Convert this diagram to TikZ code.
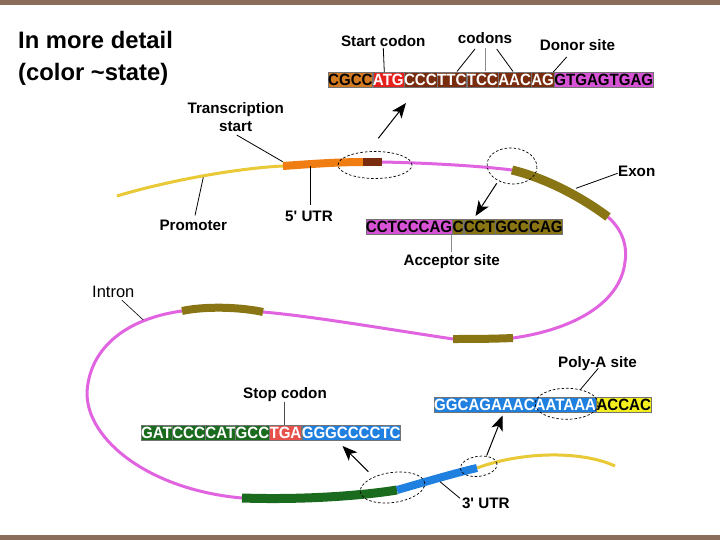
\documentclass[tikz,border=0pt]{standalone}
\usepackage{fontspec}
\setmainfont{Liberation Sans}
\newfontfamily\lab{Liberation Sans}
\newfontfamily\seqf{Liberation Sans}[FakeStretch=0.925]
\usetikzlibrary{shapes.geometric,arrows.meta}
\definecolor{cBorder}{HTML}{8B6D5C}
\definecolor{cOrangeS}{HTML}{D27A22}
\definecolor{cOrangeL}{HTML}{F07D12}
\definecolor{cRed}{HTML}{E6201C}
\definecolor{cBrown}{HTML}{7A2D0E}
\definecolor{cMag}{HTML}{D653D6}
\definecolor{cMagL}{HTML}{E063E0}
\definecolor{cOlive}{HTML}{8A7514}
\definecolor{cGreen}{HTML}{1B6B1E}
\definecolor{cBlue}{HTML}{1F80E0}
\definecolor{cSalmon}{HTML}{E8504C}
\definecolor{cYelL}{HTML}{E9C935}
\definecolor{cYelS}{HTML}{F4EE1E}
\tikzset{
  seq/.style={anchor=west, inner sep=0pt, minimum height=15pt, text height=11.6pt, text depth=0pt,
    font=\seqf\bfseries\fontsize{16.3}{17}\selectfont, draw=black!55, line width=0.4pt},
  lbl/.style={font=\lab\bfseries\fontsize{15.2}{18}\selectfont, inner sep=0pt, align=center},
  lline/.style={line width=0.8pt, black},
  gline/.style={line width=0.8pt, black!45},
  arr/.style={line width=1pt, -{Stealth[length=15pt,width=12pt,inset=4pt]}},
  dell/.style={ellipse, draw, dashed, dash pattern=on 2.5pt off 2pt, line width=0.7pt, inner sep=0pt},
  thinline/.style={line width=3pt, line cap=butt},
  thickline/.style={line width=9pt, line cap=butt},
}
\begin{document}
\begin{tikzpicture}[x=1pt,y=-1pt]
\useasboundingbox (0,0) rectangle (720,540);
\fill[white] (0,0) rectangle (720,540);
\fill[cBorder] (0,0) rectangle (720,5);
\fill[cBorder] (0,535) rectangle (720,540);

% title
\node[anchor=base west, inner sep=0pt, align=left, font=\lab\bfseries\fontsize{23.8}{32.4}\selectfont] (title) at (18,80.7) {In more detail\\(color \textasciitilde state)};

% ---- curve points
\coordinate (p0) at (117,196);
\coordinate (p1) at (283,166);
\coordinate (p2) at (363,162);
\coordinate (p3) at (382,162);
\coordinate (p4) at (512,170);
\coordinate (p5) at (608,217);
\coordinate (p5b) at (625,262);
\coordinate (p6) at (513,338);
\coordinate (p7) at (453,339);
\coordinate (p8) at (263,312);
\coordinate (p9) at (182,311);
\coordinate (p9b) at (87,392);
\coordinate (p10) at (242,498);
\coordinate (p11) at (397,490);
\coordinate (p12) at (477,468);
\coordinate (p13) at (615,466);

% magenta intron lines
\draw[thinline, cMagL] (p3) .. controls (430,163) and (480,166) .. (p4);
\draw[thinline, cMagL] (p5) .. controls (625,232) and (627,250) .. (p5b) .. controls (620,305) and (570,330) .. (p6);
\draw[thinline, cMagL] (p7) .. controls (380,328) and (310,316) .. (p8);
\draw[thinline, cMagL] (p9) .. controls (130,318) and (90,345) .. (p9b) .. controls (86,440) and (150,490) .. (p10);
% promoter & downstream yellow
\draw[thinline, cYelL] (p0) .. controls (170,180) and (240,168) .. (p1);
\draw[thinline, cYelL] (p12) .. controls (520,452) and (580,450) .. (p13);
% thick segments
\draw[thickline, cOrangeL, line width=8pt] (p1) .. controls (310,164) and (340,162) .. (p2);
\draw[thickline, cBrown, line width=8pt] (p2) -- (p3);
\draw[thickline, cOlive] (p4) .. controls (545,178) and (580,196) .. (p5);
\draw[thickline, cOlive, line width=8pt] (p6) .. controls (490,339) and (470,339) .. (p7);
\draw[thickline, cOlive, line width=8pt] (p8) .. controls (240,307) and (205,306) .. (p9);
\draw[thickline, cGreen] (p10) .. controls (300,500) and (360,496) .. (p11);
\draw[thickline, cBlue, line width=8pt] (p11) .. controls (425,482) and (455,473) .. (p12);

% dashed ellipses
\node[dell, minimum width=74pt, minimum height=27pt] (e1) at (375,165) {};
\node[dell, minimum width=50pt, minimum height=36pt, rotate=-5] (e2) at (512,166) {};
\node[dell, minimum width=65pt, minimum height=30pt, rotate=8] (e3) at (392.5,487.5) {};
\node[dell, minimum width=37pt, minimum height=20pt, rotate=8] (e4) at (478.7,466.3) {};

% ---- top sequence
\node[seq, fill=cOrangeS, text=black] (t1) at (328,79.5) {CGCC};
\node[seq, fill=cRed, text=white] (t2) at (t1.east) {ATG};
\node[seq, fill=cBrown, text=white] (t3) at (t2.east) {CCC};
\node[seq, fill=cBrown, text=white] (t4) at (t3.east) {TTC};
\node[seq, fill=cBrown, text=white] (t5) at (t4.east) {TCC};
\node[seq, fill=cBrown, text=white] (t6) at (t5.east) {AAC};
\node[seq, fill=cBrown, text=white] (t7) at (t6.east) {AG};
\node[seq, fill=cMag, text=black] (t8) at (t7.east) {GTGAGTGAG};

% ---- acceptor sequence
\node[seq, fill=cMag, text=black] (a1) at (365.7,227) {CCTCCCAG};
\node[seq, fill=cOlive, text=black] (a2) at (a1.east) {C};
\node[seq, fill=cOlive, text=black] (a3) at (a2.east) {CCT};
\node[seq, fill=cOlive, text=black] (a4) at (a3.east) {GCC};
\node[seq, fill=cOlive, text=black] (a5) at (a4.east) {CAG};

% ---- stop sequence
\node[seq, fill=cGreen, text=white] (b1) at (141,432.6) {GAT};
\node[seq, fill=cGreen, text=white] (b2) at (b1.east) {CCC};
\node[seq, fill=cGreen, text=white] (b3) at (b2.east) {CAT};
\node[seq, fill=cGreen, text=white] (b4) at (b3.east) {GCC};
\node[seq, fill=cSalmon, text=white] (b5) at (b4.east) {TGA};
\node[seq, fill=cBlue, text=white] (b6) at (b5.east) {GGGCCCCTC};

% ---- poly-A sequence
\node[seq, fill=cBlue, text=white] (c1) at (434,404.7) {GGCAGAAACAATAAA};
\node[seq, fill=cYelS, text=black] (c2) at (c1.east) {ACCAC};
\node[dell, minimum width=63pt, minimum height=31pt] (e5) at (566.7,403.8) {};

% ---- labels
\node[lbl] (lStart) at (383.3,41.5) {Start codon};
\node[lbl] (lCodons) at (485,38.3) {codons};
\node[lbl] (lDonor) at (577.5,45) {Donor site};
\node[lbl] (lTrans) at (235.7,117.5) {Transcription\\start};
\node[lbl] (lProm) at (193.3,225) {Promoter};
\node[lbl] (lUTR5) at (309,216.7) {5' UTR};
\node[lbl] (lExon) at (636.7,171.7) {Exon};
\node[lbl] (lAcc) at (451.7,261.7) {Acceptor site};
\node[lbl, font=\lab\fontsize{16.5}{18}\selectfont] (lIntron) at (113.3,292.3) {Intron};
\node[lbl] (lStop) at (285,395) {Stop codon};
\node[lbl] (lPoly) at (597.5,363.3) {Poly-A site};
\node[lbl] (lUTR3) at (485.8,503.3) {3' UTR};

% ---- label lines (free ends as coordinates)
\coordinate (qStart) at (384.3,72);
\draw[lline] (lStart.south |- 0,48) -- (qStart);
\coordinate (qc1a) at (475,49); \coordinate (qc1b) at (457,71.5);
\coordinate (qc2a) at (485.7,48); \coordinate (qc2b) at (485.7,71.5);
\coordinate (qc3a) at (496.7,49); \coordinate (qc3b) at (513,71.5);
\draw[lline] (qc1a) -- (qc1b);
\draw[gline] (qc2a) -- (qc2b);
\draw[lline] (qc3a) -- (qc3b);
\coordinate (qDa) at (566.7,57); \coordinate (qDb) at (553.3,72);
\draw[lline] (qDa) -- (qDb);
\coordinate (qTa) at (236.7,135); \coordinate (qTb) at (282.7,161.7);
\draw[lline] (qTa) -- (qTb);
\coordinate (qPa) at (195,215.5); \coordinate (qPb) at (203.3,177.3);
\draw[lline] (qPa) -- (qPb);
\coordinate (qUa) at (310,166); \coordinate (qUb) at (310,205);
\draw[lline] (qUa) -- (qUb);
\coordinate (qEa) at (617.7,173.3); \coordinate (qEb) at (576,188.3);
\draw[lline] (qEa) -- (qEb);
\coordinate (qAa) at (451,234.5); \coordinate (qAb) at (451,251.7);
\draw[gline] (qAa) -- (qAb);
\coordinate (qIa) at (121.7,300); \coordinate (qIb) at (143.3,320);
\draw[lline, line width=0.6pt] (qIa) -- (qIb);
\coordinate (qSa) at (284.3,401.5); \coordinate (qSb) at (284.3,425);
\draw[gline, black!70] (qSa) -- (qSb);
\coordinate (qYa) at (598.3,368.3); \coordinate (qYb) at (580,390);
\draw[lline] (qYa) -- (qYb);
\coordinate (q3a) at (460,498.3); \coordinate (q3b) at (440,481.7);
\draw[lline] (q3a) -- (q3b);

% ---- arrows
\coordinate (r1a) at (378.3,138.3); \coordinate (r1b) at (406,103);
\draw[arr] (r1a) -- (r1b);
\coordinate (r2a) at (496.7,183.3); \coordinate (r2b) at (475.5,216);
\draw[arr] (r2a) -- (r2b);
\coordinate (r3a) at (368.3,471.7); \coordinate (r3b) at (342.5,446);
\draw[arr] (r3a) -- (r3b);
\coordinate (r4a) at (486.7,455.5); \coordinate (r4b) at (502.5,415.5);
\draw[arr] (r4a) -- (r4b);
\end{tikzpicture}
\end{document}
